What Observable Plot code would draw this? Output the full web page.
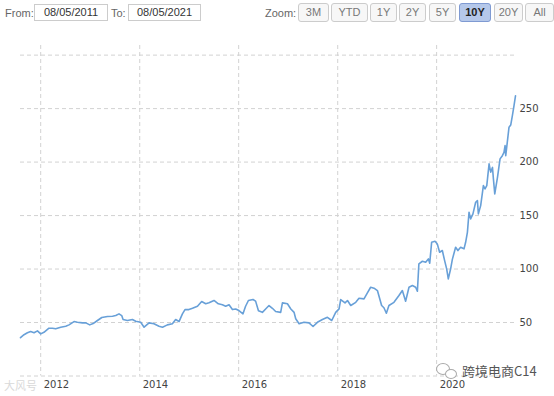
<!DOCTYPE html>
<html>
<head>
<meta charset="utf-8">
<script src="https://cdn.jsdelivr.net/npm/d3@7"></script>
<script src="https://cdn.jsdelivr.net/npm/@observablehq/plot@0.6"></script>
<style>
  html, body { margin: 0; padding: 0; background: #fff; }
  body { width: 554px; height: 396px; position: relative; overflow: hidden; font-family: "Liberation Sans", Arial, sans-serif; }
  #bar { position: absolute; left: 0; top: 0; width: 554px; height: 26px; font-size: 11px; color: #666; }
  .lbl { position: absolute; top: 7px; }
  .box { position: absolute; top: 4px; height: 17px; border: 1px solid #ccc; box-sizing: border-box; color: #333; font-size: 11px; text-align: center; line-height: 15px; }
  #zoomBtns { position: absolute; left: 298px; top: 3px; display: flex; gap: 2px; }
  .btn { height: 19px; box-sizing: border-box; border: 1px solid #ccc; border-radius: 3px; background: #f7f7f7; color: #777; font-size: 11px; line-height: 17px; text-align: center; padding: 0; }
  .btn:nth-child(1) { width: 31px; }
  .btn:nth-child(2) { width: 37px; }
  .btn:nth-child(3) { width: 27px; }
  .btn:nth-child(4) { width: 27px; }
  .btn:nth-child(5) { width: 27px; margin-left: 1px; }
  .btn:nth-child(6) { width: 32px; margin-left: 1px; }
  .btn:nth-child(7) { width: 29px; margin-left: 1px; }
  .btn:nth-child(8) { width: 29px; }
  .btn.sel { background: #b5c8ea; border-color: #7f9ad2; color: #222; font-weight: bold; }
  #chart { position: absolute; left: 0; top: 26px; }
  #wmRight { position: absolute; left: 462px; top: 363px; font-family: "Noto Sans CJK SC", sans-serif; font-size: 13px; color: #555; line-height: 16px; }
  #wmLeft { position: absolute; left: 4px; top: 378px; font-family: "Noto Sans CJK SC", sans-serif; font-size: 11px; color: #d9d9d9; line-height: 14px; }
  .bub { position: absolute; border: 1.5px solid #aaa; border-radius: 50%; box-sizing: border-box; }
</style>
</head>
<body>
<div id="bar">
  <span class="lbl" style="left:5px">From:</span>
  <div class="box" id="fromBox" style="left:34px;width:74px"></div>
  <span class="lbl" style="left:111px">To:</span>
  <div class="box" id="toBox" style="left:128px;width:73px"></div>
  <span class="lbl" style="left:265px">Zoom:</span>
  <div id="zoomBtns"></div>
</div>
<div id="chart"></div>
<div class="bub" style="left:436px;top:363px;width:14px;height:12px"></div>
<div class="bub" style="left:445px;top:369px;width:12px;height:10px;background:#fff"></div>
<div id="wmRight"></div>
<div id="wmLeft"></div>
<script>
// ---- data ----
const fromDate = "08/05/2011";
const toDate = "08/05/2021";
const zoomButtons = ["3M", "YTD", "1Y", "2Y", "5Y", "10Y", "20Y", "All"];
const selectedZoom = "10Y";
const xTickYears = [2012, 2014, 2016, 2018, 2020];
const yTicks = [50, 100, 150, 200, 250];
const yGrid = [0, 50, 100, 150, 200, 250, 300];
const watermarkRight = "跨境电商C14";
const watermarkLeft = "大风号";

const dates = [
  "2011-08-05","2011-08-31","2011-09-25","2011-10-19","2011-11-13","2011-12-08",
  "2012-01-01","2012-01-25","2012-03-02","2012-03-27","2012-04-21","2012-05-28","2012-07-04","2012-07-28","2012-09-03","2012-09-28","2012-11-04","2012-11-29","2012-12-28",
  "2013-01-22","2013-02-23","2013-03-27","2013-05-08","2013-06-14","2013-07-08","2013-08-01","2013-08-21","2013-08-31","2013-10-02","2013-11-08","2013-12-02",
  "2014-01-08","2014-02-02","2014-03-11","2014-04-16","2014-05-23","2014-06-18","2014-07-24","2014-08-30","2014-09-23","2014-10-18","2014-11-12","2014-12-01","2014-12-30",
  "2015-01-25","2015-03-03","2015-04-03","2015-05-03","2015-05-27","2015-07-03","2015-08-04","2015-09-03","2015-09-27","2015-10-22","2015-11-16","2015-12-10",
  "2016-01-03","2016-02-02","2016-02-21","2016-03-13","2016-04-16","2016-05-05","2016-05-26","2016-06-24","2016-07-18","2016-08-12","2016-09-06","2016-09-30","2016-11-06","2016-11-19","2016-12-26",
  "2017-01-20","2017-02-13","2017-02-25","2017-03-22","2017-04-27","2017-06-03","2017-07-03","2017-08-04","2017-09-10","2017-10-17","2017-11-18","2017-12-17",
  "2018-01-11","2018-01-23","2018-02-24","2018-03-14","2018-04-07","2018-05-14","2018-06-07","2018-07-14","2018-08-08","2018-09-01","2018-09-26","2018-10-21","2018-11-21","2018-12-08","2018-12-26",
  "2019-01-14","2019-02-20","2019-03-29","2019-04-23","2019-05-17","2019-06-11","2019-07-06","2019-07-30","2019-08-12","2019-08-23","2019-09-18","2019-10-12","2019-11-01","2019-11-11","2019-11-25","2019-12-20",
  "2020-01-06","2020-01-23","2020-02-12","2020-02-29","2020-03-15","2020-03-27","2020-04-13","2020-04-26","2020-05-20","2020-06-06","2020-06-26","2020-07-21","2020-08-02","2020-08-15","2020-08-27","2020-09-08","2020-09-25","2020-10-15","2020-10-28","2020-11-04","2020-11-21","2020-12-11","2020-12-23",
  "2021-01-05","2021-01-22","2021-02-03","2021-02-16","2021-02-23","2021-03-05","2021-03-25","2021-04-13","2021-04-30","2021-05-12","2021-05-20","2021-05-25","2021-06-11","2021-06-18","2021-07-01","2021-07-13","2021-07-25","2021-08-05"
];
const prices = [
  35.8,38.6,40.4,41.6,40.4,42.2,
  39.4,40.9,44.7,44.7,44.1,45.6,46.5,47.8,50.9,50.3,49.7,49.7,47.8,
  49.0,51.9,54.7,55.6,55.9,56.5,58.1,56.5,52.8,51.9,52.8,51.2,
  50.2,45.6,49.7,48.8,46.5,45.6,47.8,48.8,52.8,50.9,58.1,62.1,62.1,
  63.3,65.2,69.6,67.5,68.4,70.6,67.5,66.6,65.2,66.6,62.1,62.7,
  61.2,58.1,65.2,70.6,71.5,70.0,61.0,59.5,62.7,65.9,63.3,60.3,59.5,68.4,67.5,
  62.7,59.5,53.5,48.8,50.2,49.7,46.3,50.2,52.8,54.9,51.9,59.5,
  62.7,71.5,68.4,70.6,65.9,68.9,72.7,72.1,77.8,83.0,82.1,79.9,65.9,63.8,58.7,
  65.9,68.9,75.2,79.9,69.9,83.0,84.6,83.0,79.2,104.9,107.3,106.3,109.5,105.4,125.0,125.9,
  123.4,115.7,117.3,107.9,100.2,90.8,100.0,109.0,120.4,117.3,120.4,118.9,125.0,134.3,153.1,146.9,151.6,162.4,164.0,151.6,159.3,178.0,174.9,
  178.0,198.4,190.6,195.0,184.3,170.3,185.8,203.0,206.0,209.0,215.4,206.0,224.7,232.5,234.7,243.4,252.8,262.0
];

// ---- top bar ----
document.getElementById("fromBox").textContent = fromDate;
document.getElementById("toBox").textContent = toDate;
const zb = document.getElementById("zoomBtns");
zoomButtons.forEach(b => {
  const el = document.createElement("div");
  el.className = "btn" + (b === selectedZoom ? " sel" : "");
  el.textContent = b;
  zb.appendChild(el);
});
document.getElementById("wmRight").textContent = watermarkRight;
document.getElementById("wmLeft").textContent = watermarkLeft;

// ---- chart ----
const data = dates.map((d, i) => ({date: new Date(d), price: prices[i]}));
const xTickDates = xTickYears.map(y => new Date(Date.UTC(y, 0, 1)));
const gridStyle = {stroke: "#d2d2d2", strokeOpacity: 1, strokeWidth: 1, strokeDasharray: "4,3"};

const chart = Plot.plot({
  width: 554,
  height: 370,
  marginLeft: 20,
  marginRight: 39,
  marginTop: 19,
  marginBottom: 20.5,
  x: {type: "utc", domain: [data[0].date, data[data.length - 1].date]},
  y: {domain: [0, 309]},
  style: {fontFamily: "DejaVu Sans, Verdana, sans-serif", fontSize: "10px", color: "#444", background: "transparent", overflow: "visible"},
  marks: [
    Plot.gridX(xTickDates, gridStyle),
    Plot.gridY(yGrid, gridStyle),
    Plot.axisY(yTicks, {anchor: "right", tickSize: 0, tickPadding: 4, label: null, fill: "#444"}),
    Plot.axisX(xTickDates, {anchor: "bottom", tickSize: 0, tickPadding: 5, textAnchor: "start", dx: 3, tickFormat: d3.utcFormat("%Y"), label: null, fill: "#444"}),
    Plot.lineY(data, {x: "date", y: "price", stroke: "#68a0d8", strokeWidth: 1.6, strokeLinejoin: "round"})
  ]
});
document.getElementById("chart").appendChild(chart);
</script>
</body>
</html>
